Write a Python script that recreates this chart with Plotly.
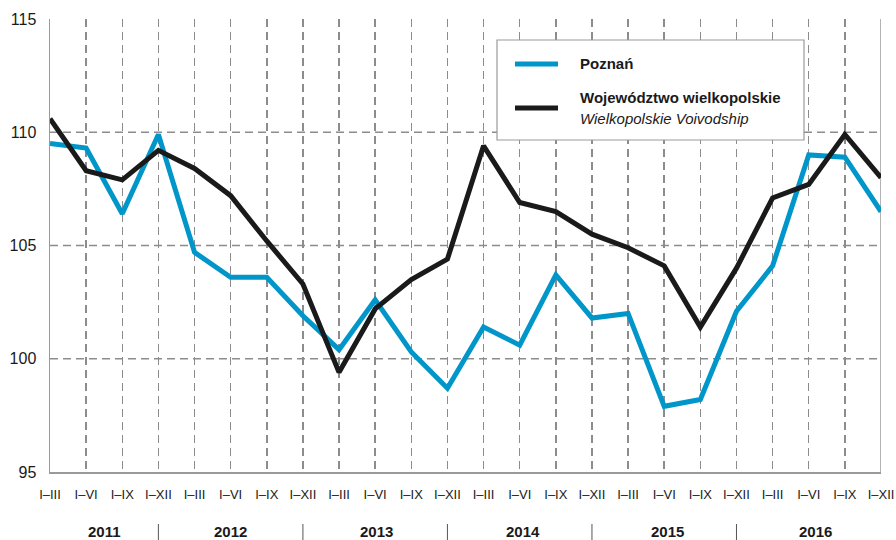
import plotly.graph_objects as go

# ---- data ----
periods = ["I–III", "I–VI", "I–IX", "I–XII"]
years = ["2011", "2012", "2013", "2014", "2015", "2016"]
tick_labels = [p for _ in years for p in periods]

series_names = ["Poznań", "Województwo wielkopolskie"]
series_subtitle = "Wielkopolskie Voivodship"

poznan = [109.5, 109.3, 106.4, 109.9,
          104.7, 103.6, 103.6, 101.9,
          100.4, 102.6, 100.3, 98.7,
          101.4, 100.6, 103.7, 101.8,
          102.0, 97.9, 98.2, 102.1,
          104.1, 109.0, 108.9, 106.5]

wielkopolskie = [110.6, 108.3, 107.9, 109.2,
                 108.4, 107.2, 105.2, 103.3,
                 99.4, 102.2, 103.5, 104.4,
                 109.4, 106.9, 106.5, 105.5,
                 104.9, 104.1, 101.4, 104.0,
                 107.1, 107.7, 109.9, 108.0]

y_ticks = [95, 100, 105, 110, 115]

# ---- layout helpers ----
W, H = 896, 540
L, T = 50, 19
PLOT_R, PLOT_B = 881, 472
R, B = W - PLOT_R, H - PLOT_B
PW, PH = PLOT_R - L, PLOT_B - T

def px_x(px):
    return (px - L) / PW

def px_y(py):
    return (PLOT_B - py) / PH

x_idx = list(range(len(tick_labels)))
BLUE = "#0096c9"
BLACK = "#1a1a1a"
GRID = "#8c8c8c"
AXIS = "#9a9a9a"
NARROW = "Liberation Sans Narrow, Arial Narrow, Liberation Sans, Arial, sans-serif"
SANS = "Liberation Sans, Arial, sans-serif"

fig = go.Figure()
fig.add_trace(go.Scatter(x=x_idx, y=poznan, mode="lines", name=series_names[0],
                         line=dict(color=BLUE, width=5), showlegend=False))
fig.add_trace(go.Scatter(x=x_idx, y=wielkopolskie, mode="lines", name=series_names[1],
                         line=dict(color=BLACK, width=5), showlegend=False))

shapes = []
# horizontal dashed grid (not at top/bottom)
for v in y_ticks[1:-1]:
    shapes.append(dict(type="line", xref="paper", yref="y", x0=0, x1=1, y0=v, y1=v,
                       line=dict(color=GRID, width=1.5, dash="8px,5px"), layer="below"))
# right border
shapes.append(dict(type="line", xref="x", yref="paper", x0=x_idx[-1], x1=x_idx[-1], y0=0, y1=1,
                   line=dict(color=AXIS, width=1.5), layer="below"))
# year separators
for k in range(1, len(years)):
    xs = 4 * k - 1
    shapes.append(dict(type="line", xref="x", yref="paper", x0=xs, x1=xs,
                       y0=px_y(524), y1=px_y(540), line=dict(color="#555555", width=1)))
# legend box
shapes.append(dict(type="rect", xref="paper", yref="paper",
                   x0=px_x(497), x1=px_x(804), y0=px_y(140), y1=px_y(40),
                   line=dict(color="#9a9a9a", width=1.2), fillcolor="white", layer="above"))
shapes.append(dict(type="line", xref="paper", yref="paper", x0=px_x(515), x1=px_x(558),
                   y0=px_y(64), y1=px_y(64), line=dict(color=BLUE, width=5)))
shapes.append(dict(type="line", xref="paper", yref="paper", x0=px_x(515), x1=px_x(558),
                   y0=px_y(108), y1=px_y(108), line=dict(color=BLACK, width=5)))

annotations = []
year_pos = [1.5, 5.0, 9.05, 13.1, 17.1, 21.2]
for yr, xp in zip(years, year_pos):
    annotations.append(dict(x=xp, y=px_y(531), xref="x", yref="paper", text="<b>%s</b>" % yr,
                            showarrow=False, xanchor="center", yanchor="middle",
                            font=dict(family=NARROW, size=15, color=BLACK)))
annotations.append(dict(x=px_x(578), y=px_y(64), xref="paper", yref="paper",
                        text="<b>%s</b>" % series_names[0], showarrow=False,
                        xanchor="left", yanchor="middle",
                        font=dict(family=SANS, size=15, color=BLACK)))
annotations.append(dict(x=px_x(578), y=px_y(97), xref="paper", yref="paper",
                        text="<b>%s</b>" % series_names[1], showarrow=False,
                        xanchor="left", yanchor="middle",
                        font=dict(family=SANS, size=15, color=BLACK)))
annotations.append(dict(x=px_x(578), y=px_y(118), xref="paper", yref="paper",
                        text="<i>%s</i>" % series_subtitle, showarrow=False,
                        xanchor="left", yanchor="middle",
                        font=dict(family=SANS, size=15, color=BLACK)))

fig.update_layout(
    width=W, height=H,
    margin=dict(l=L, r=R, t=T, b=B, pad=0, autoexpand=False),
    paper_bgcolor="white", plot_bgcolor="white",
    showlegend=False,
    shapes=shapes, annotations=annotations,
    xaxis=dict(range=[0, len(tick_labels) - 1], tickmode="array", tickvals=x_idx,
               ticktext=tick_labels, showgrid=True, gridcolor=GRID, gridwidth=1.5,
               griddash="8px,5px", zeroline=False, showline=True, linecolor=AXIS,
               linewidth=1.5, ticks="", ticklabelstandoff=10, automargin=False,
               tickfont=dict(family=NARROW, size=13, color=BLACK)),
    yaxis=dict(range=[95, 115], tickmode="array", tickvals=y_ticks,
               showgrid=False, zeroline=False, showline=True, linecolor=AXIS,
               linewidth=1.5, ticks="", ticklabelstandoff=9, automargin=False,
               tickfont=dict(family=SANS, size=16, color=BLACK)),
)

fig.write_html("out.html",
               config={"displayModeBar": False, "staticPlot": True},
               post_script="document.body.style.margin='0';document.body.style.overflow='hidden';")
